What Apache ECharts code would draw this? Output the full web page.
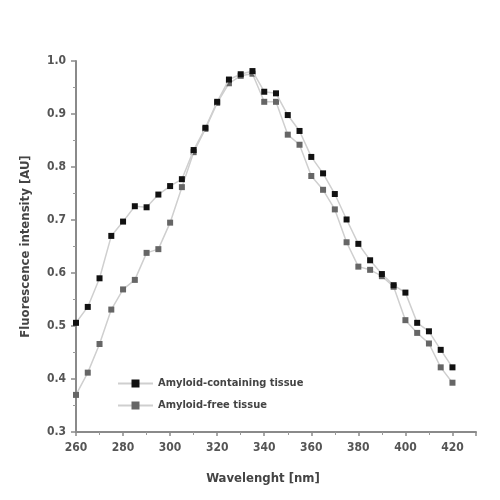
<!DOCTYPE html>
<html>
<head>
<meta charset="utf-8">
<script src="https://cdn.jsdelivr.net/npm/echarts@6/dist/echarts.min.js"></script>
<style>html,body{margin:0;padding:0;background:#fff}#c{width:500px;height:500px}</style>
</head>
<body>
<div id="c"></div>
<script>
var wavelengths = [260,265,270,275,280,285,290,295,300,305,310,315,320,325,330,335,340,345,350,355,360,365,370,375,380,385,390,395,400,405,410,415,420];
var amyloidContaining = [0.506,0.536,0.590,0.670,0.697,0.726,0.724,0.748,0.764,0.777,0.832,0.874,0.923,0.965,0.975,0.981,0.942,0.939,0.898,0.868,0.819,0.788,0.749,0.701,0.655,0.624,0.598,0.577,0.563,0.506,0.490,0.455,0.422];
var amyloidFree = [0.370,0.412,0.466,0.531,0.569,0.587,0.638,0.645,0.695,0.762,0.828,0.872,0.921,0.958,0.972,0.976,0.923,0.923,0.861,0.842,0.783,0.757,0.720,0.658,0.612,0.606,0.594,0.574,0.511,0.487,0.467,0.422,0.393];
var seriesNames = ['Amyloid-containing tissue','Amyloid-free tissue'];
var xAxisTitle = 'Wavelenght [nm]';
var yAxisTitle = 'Fluorescence intensity [AU]';

function pairs(xs, ys){ return xs.map(function(x,i){ return [x, ys[i]]; }); }
var FONT = '"Liberation Sans Narrow","DejaVu Sans Condensed","Roboto Condensed",sans-serif';
var chart = echarts.init(document.getElementById('c'), null, {renderer:'canvas'});
chart.setOption({
  animation:false,
  backgroundColor:'#fff',
  grid:{left:76, right:24, top:61, bottom:68},
  legend:{
    orient:'vertical', left:112, top:373, itemWidth:35, itemHeight:10, itemGap:11,
    textStyle:{fontFamily:FONT, fontSize:11, fontWeight:'bold', color:'#444'},
    data:seriesNames
  },
  xAxis:{
    type:'value', min:260, max:430, interval:20,
    name:xAxisTitle, nameLocation:'middle', nameGap:40,
    nameTextStyle:{fontFamily:FONT, fontSize:13, fontWeight:'bold', color:'#444', padding:[0,26,0,0]},
    axisLine:{lineStyle:{color:'#8a8a8a', width:2}},
    axisTick:{show:true, length:4, lineStyle:{color:'#8a8a8a', width:1.5}},
    minorTick:{show:true, splitNumber:2, length:3, lineStyle:{color:'#999'}},
    splitLine:{show:false},
    axisLabel:{fontFamily:FONT, fontSize:12, fontWeight:'bold', color:'#555', margin:10, showMaxLabel:false}
  },
  yAxis:{
    type:'value', min:0.3, max:1.0, interval:0.1,
    name:yAxisTitle, nameLocation:'middle', nameGap:44, nameRotate:90,
    nameTextStyle:{fontFamily:FONT, fontSize:13, fontWeight:'bold', color:'#444'},
    axisLine:{show:true, lineStyle:{color:'#8a8a8a', width:2}},
    axisTick:{show:true, length:5, lineStyle:{color:'#8a8a8a', width:1.5}},
    minorTick:{show:true, splitNumber:2, length:3, lineStyle:{color:'#999'}},
    splitLine:{show:false},
    axisLabel:{fontFamily:FONT, fontSize:12, fontWeight:'bold', color:'#555', margin:10,
      formatter:function(v){ return v.toFixed(1); }}
  },
  series:[
    {
      name:seriesNames[1], type:'line', data:pairs(wavelengths, amyloidFree),
      symbol:'rect', symbolSize:6, showAllSymbol:true,
      lineStyle:{color:'#cfcfcf', width:1.5},
      itemStyle:{color:'#666'}, z:2
    },
    {
      name:seriesNames[0], type:'line', data:pairs(wavelengths, amyloidContaining),
      symbol:'rect', symbolSize:6, showAllSymbol:true,
      lineStyle:{color:'#cfcfcf', width:1.5},
      itemStyle:{color:'#111'}, z:3
    }
  ]
});
</script>
</body>
</html>
